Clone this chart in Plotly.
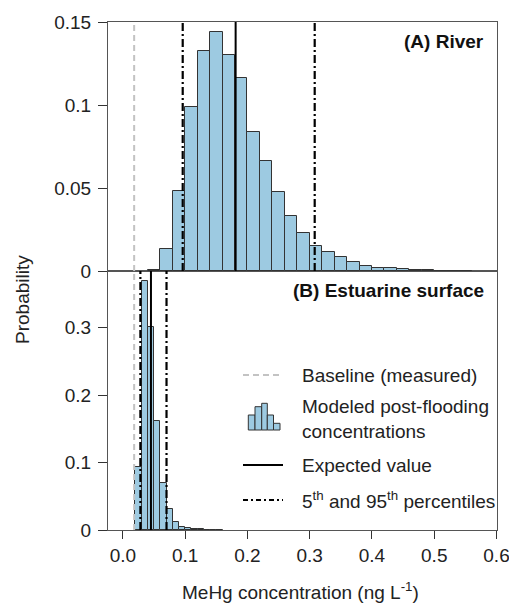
import plotly.graph_objects as go

# ---------------- data ----------------
river_bin_lo = [0.04, 0.06, 0.08, 0.10, 0.12, 0.14, 0.16, 0.18, 0.20, 0.22, 0.24, 0.26, 0.28,
                0.30, 0.32, 0.34, 0.36, 0.38, 0.40, 0.42, 0.44, 0.46, 0.48, 0.50, 0.52, 0.54]
river_prob = [0.0005, 0.013, 0.048, 0.099, 0.1325, 0.144, 0.130, 0.116, 0.084, 0.0665, 0.0476, 0.033, 0.023,
              0.015, 0.0115, 0.0083, 0.0057, 0.003, 0.002, 0.002, 0.001, 0.0009, 0.0006, 0.0003, 0.0002, 0.0001]
river_bin_width = 0.02

est_bin_lo = [0.02, 0.03, 0.04, 0.05, 0.06, 0.07, 0.08, 0.09, 0.10, 0.11, 0.12, 0.13, 0.14, 0.15]
est_prob = [0.093, 0.369, 0.301, 0.161, 0.070, 0.031, 0.012, 0.005, 0.003, 0.002, 0.001, 0.0006, 0.0003, 0.0002]
est_bin_width = 0.01

baseline = 0.018
river_stats = {"p5": 0.096, "mean": 0.181, "p95": 0.308}
est_stats = {"p5": 0.028, "mean": 0.045, "p95": 0.070}

x_ticks = [0.0, 0.1, 0.2, 0.3, 0.4, 0.5, 0.6]
x_ticktext = ["0.0", "0.1", "0.2", "0.3", "0.4", "0.5", "0.6"]
river_yticks = [0, 0.05, 0.1, 0.15]
river_yticktext = ["0", "0.05", "0.1", "0.15"]
est_yticks = [0, 0.1, 0.2, 0.3]
est_yticktext = ["0", "0.1", "0.2", "0.3"]

# ---------------- styling ----------------
W, H = 509, 603
# plot box in window pixels: left 108, right 497, top 22, bottom 530
BOX_L, BOX_R, BOX_T, BOX_B = 108, 497, 22, 530
ML, MR, MT, MB = BOX_L, W - BOX_R, BOX_T, H - BOX_B
PW, PH = BOX_R - BOX_L, BOX_B - BOX_T
split = (BOX_B - 271) / PH  # bottom panel share
FONT = "Liberation Sans, Arial, sans-serif"
FS = 19
BAR_FILL = "#9dcae1"
BAR_LINE = "#333333"
BOX = "#555555"
GRAY = "#c3c3c3"
DASHDOT = "8px,3px,2px,3px"
DASH = "6px,4px"
X_RANGE = [-0.024, 0.6008]


def px2paper(px, py):
    return (px - BOX_L) / PW, (BOX_B - py) / PH


fig = go.Figure()

fig.add_trace(go.Bar(
    x=[v + river_bin_width / 2 for v in river_bin_lo], y=river_prob, width=river_bin_width,
    marker=dict(color=BAR_FILL, line=dict(color=BAR_LINE, width=1)),
    xaxis="x2", yaxis="y2", showlegend=False, hoverinfo="skip"))

fig.add_trace(go.Bar(
    x=[v + est_bin_width / 2 for v in est_bin_lo], y=est_prob, width=est_bin_width,
    marker=dict(color=BAR_FILL, line=dict(color=BAR_LINE, width=1)),
    xaxis="x", yaxis="y", showlegend=False, hoverinfo="skip"))

shapes = []
for xr, yr, stats in [("x2", "y2 domain", river_stats), ("x", "y domain", est_stats)]:
    shapes.append(dict(type="line", xref=xr, yref=yr, x0=baseline, x1=baseline, y0=0, y1=1,
                       line=dict(color=GRAY, width=2, dash=DASH)))
    for key in ("p5", "p95"):
        shapes.append(dict(type="line", xref=xr, yref=yr, x0=stats[key], x1=stats[key], y0=0, y1=1,
                           line=dict(color="black", width=2.2, dash=DASHDOT)))
    shapes.append(dict(type="line", xref=xr, yref=yr, x0=stats["mean"], x1=stats["mean"], y0=0, y1=1,
                       line=dict(color="black", width=2)))

# ---------------- legend (manual) ----------------
annotations = []
LX0, LX1, TX = 243, 283, 300
legend_rows = [
    (375, "Baseline (measured)", dict(color=GRAY, width=2, dash=DASH)),
    (465, "Expected value", dict(color="black", width=2)),
    (500, "5<sup>th</sup> and 95<sup>th</sup> percentiles", dict(color="black", width=2, dash="5px,3px,2px,3px")),
]
for py, txt, ln in legend_rows:
    x0, y0 = px2paper(LX0, py)
    x1, _ = px2paper(LX1, py)
    shapes.append(dict(type="line", xref="paper", yref="paper", x0=x0, x1=x1, y0=y0, y1=y0, line=ln))
    tx, ty = px2paper(TX, py)
    annotations.append(dict(text=txt, xref="paper", yref="paper", x=tx, y=ty, xanchor="left",
                            yanchor="middle", showarrow=False, font=dict(size=FS, color="#222")))

# histogram icon
icon_edges = [248.3, 255, 261.7, 267.3, 273.5, 280]
icon_tops = [415, 406.7, 403.3, 415, 423.3]
for i, top in enumerate(icon_tops):
    x0, y0 = px2paper(icon_edges[i], 430)
    x1, y1 = px2paper(icon_edges[i + 1], top)
    shapes.append(dict(type="rect", xref="paper", yref="paper", x0=x0, x1=x1, y0=y0, y1=y1,
                       fillcolor=BAR_FILL, line=dict(color=BAR_LINE, width=1)))
tx, ty = px2paper(TX, 419)
annotations.append(dict(text="Modeled post-flooding<br>concentrations", xref="paper", yref="paper",
                        x=tx, y=ty, xanchor="left", yanchor="middle", align="left", showarrow=False,
                        font=dict(size=FS, color="#222")))

# panel labels
ax, ay = px2paper(486, 41)
annotations.append(dict(text="<b>(A) River</b>", xref="paper", yref="paper", x=ax, y=ay,
                        xanchor="right", yanchor="middle", showarrow=False, font=dict(size=FS, color="#111")))
bx, by = px2paper(486, 290)
annotations.append(dict(text="<b>(B) Estuarine surface</b>", xref="paper", yref="paper", x=bx, y=by,
                        xanchor="right", yanchor="middle", showarrow=False, font=dict(size=FS, color="#111")))

# axis titles
yx, yy = px2paper(22, 300)
annotations.append(dict(text="Probability", xref="paper", yref="paper", x=yx, y=yy, textangle=-90,
                        xanchor="center", yanchor="middle", showarrow=False, font=dict(size=FS, color="#222")))
xx, xy = px2paper(300, 591)
annotations.append(dict(text="MeHg concentration (ng L<sup>-1</sup>)", xref="paper", yref="paper",
                        x=xx, y=xy, xanchor="center", yanchor="middle", showarrow=False,
                        font=dict(size=FS, color="#222")))

axis_common = dict(showline=True, mirror=True, linecolor=BOX, linewidth=1, showgrid=False, zeroline=False,
                   automargin=False, tickcolor="#333", tickfont=dict(size=FS, color="#222", family=FONT))

fig.update_layout(
    width=W, height=H,
    margin=dict(l=ML, r=MR, t=MT, b=MB, autoexpand=False),
    paper_bgcolor="white", plot_bgcolor="white",
    font=dict(family=FONT),
    bargap=0,
    shapes=shapes,
    annotations=annotations,
    xaxis=dict(domain=[0, 1], range=X_RANGE, tickvals=x_ticks, ticktext=x_ticktext,
               ticks="outside", ticklen=8, anchor="y", ticklabeloverflow="allow", **axis_common),
    xaxis2=dict(domain=[0, 1], range=X_RANGE, matches="x", anchor="y2", showticklabels=False,
                ticks="", **axis_common),
    yaxis=dict(domain=[0, split], range=[0, 0.384], tickvals=est_yticks, ticktext=est_yticktext,
               ticks="outside", ticklen=9, ticklabelstandoff=3, anchor="x", **axis_common),
    yaxis2=dict(domain=[split, 1], range=[0, 0.15], tickvals=river_yticks, ticktext=river_yticktext,
                ticks="outside", ticklen=9, ticklabelstandoff=3, anchor="x2", **axis_common),
)

fig.write_html(
    "out.html",
    config={"displayModeBar": False},
    post_script="document.body.style.margin='0px';document.body.style.overflow='hidden';",
)
